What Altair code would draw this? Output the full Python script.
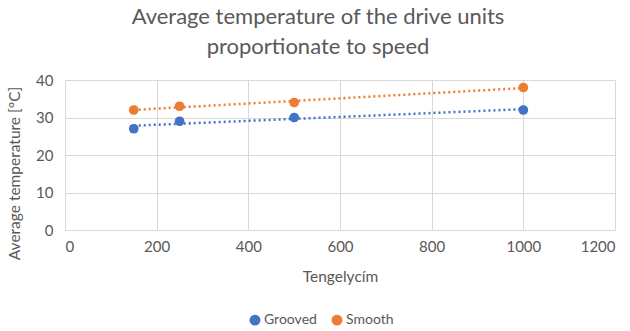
import altair as alt
import pandas as pd

speeds = [150, 250, 500, 1000]
grooved = [27, 29, 30, 32]
smooth = [32, 33, 34, 38]
series_names = ["Grooved", "Smooth"]
colors = ["#4472C4", "#ED7D31"]

rows = []
for s, vals in zip(series_names, [grooved, smooth]):
    for x, y in zip(speeds, vals):
        rows.append({"speed": x, "temp": y, "series": s})
df = pd.DataFrame(rows)

FONT = "Lato"
GREY = "#595959"

color = alt.Color(
    "series:N",
    scale=alt.Scale(domain=series_names, range=colors),
    legend=alt.Legend(
        title=None, orient="none", direction="horizontal",
        legendX=183, legendY=233, symbolType="circle", symbolSize=90,
        labelFontSize=14, labelColor=GREY, labelFont=FONT, columnPadding=12,
        labelOffset=2,
    ),
)

x = alt.X("speed:Q", scale=alt.Scale(domain=[0, 1200], nice=False),
          axis=alt.Axis(values=[0, 200, 400, 600, 800, 1000, 1200], title="Tengelycím",
                        format="d", titlePadding=15))
y = alt.Y("temp:Q", scale=alt.Scale(domain=[0, 40], nice=False),
          axis=alt.Axis(values=[0, 10, 20, 30, 40], title="Average temperature [°C]",
                        titleX=-43, titleY=93, labelPadding=12))

base = alt.Chart(df)

points = base.mark_circle(size=95, opacity=1).encode(x=x, y=y, color=color)

trend = base.transform_regression("speed", "temp", groupby=["series"]).mark_line(
    strokeDash=[2, 3], strokeWidth=2.5
).encode(x=x, y=y, color=color)

chart = (trend + points).properties(
    width=550, height=150,
    padding={"left": 65, "top": 80, "right": 15, "bottom": 101},
    autosize=alt.AutoSizeParams(type="none"),
    title=alt.TitleParams(
        text=["Average temperature of the drive units", "proportionate to speed"],
        fontSize=22, font=FONT, fontWeight="normal", color=GREY, anchor="middle",
        dx=-22, offset=14, lineHeight=30,
    ),
).configure_axis(
    labelFont=FONT, labelFontSize=15, labelColor=GREY, titleFont=FONT,
    titleFontSize=15.5, titleColor=GREY, titleFontWeight="normal",
    gridColor="#D9D9D9", domainColor="#D9D9D9", ticks=False, labelPadding=9,
).configure_view(stroke=None)

chart.save("out.html", embed_options={"renderer": "svg", "actions": False})
